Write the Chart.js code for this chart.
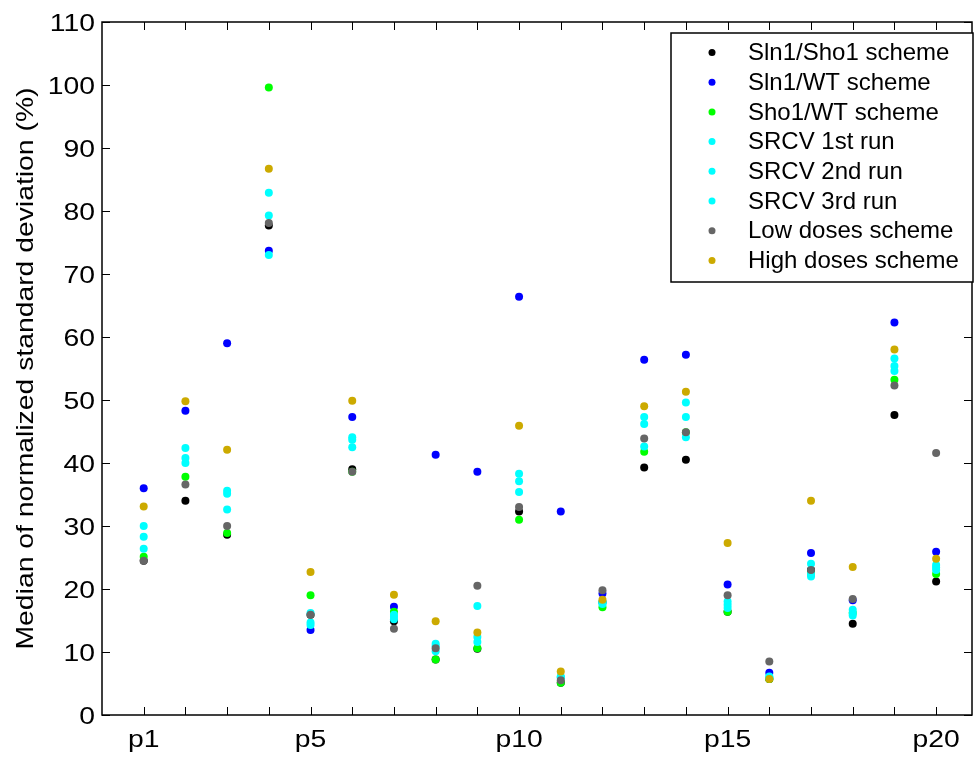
<!DOCTYPE html>
<html>
<head>
<meta charset="utf-8">
<script src="https://cdn.jsdelivr.net/npm/chart.js@4"></script>
<style>
  html, body { margin: 0; padding: 0; background: #fff; }
  canvas { display: block; }
</style>
</head>
<body>
<canvas id="chart" width="976" height="758"></canvas>
<script>
// parameters p1..p20 (x positions 1..20)
const params = ['p1','p2','p3','p4','p5','p6','p7','p8','p9','p10',
                'p11','p12','p13','p14','p15','p16','p17','p18','p19','p20'];
const xTickValues = [1, 5, 10, 15, 20];
const yTitle = 'Median of normalized standard deviation (%)';

// median of normalized standard deviation (%)
const sln1Sho1 = [24.5, 34.0, 28.6, 77.7, 15.9, 39.0, 14.9, 8.8, 10.5, 32.3, 5.1, 17.9, 39.3, 40.5, 16.4, 5.7, 23.0, 14.5, 47.6, 21.2];
const sln1WT   = [36.0, 48.3, 59.0, 73.7, 13.5, 47.3, 17.2, 41.3, 38.6, 66.4, 32.3, 19.3, 56.4, 57.2, 20.7, 6.7, 25.7, 18.2, 62.3, 25.9];
const sho1WT   = [25.1, 37.8, 28.9, 99.6, 19.0, 38.6, 16.4, 8.8, 10.6, 31.0, 5.1, 17.1, 41.8, 44.9, 16.4, 5.7, 22.4, 16.2, 53.2, 22.4];
const srcv1    = [30.0, 42.4, 35.6, 82.9, 16.2, 44.1, 15.9, 11.3, 17.3, 38.3, 6.1, 17.8, 47.3, 49.6, 18.0, 6.1, 24.0, 16.7, 56.6, 23.8];
const srcv2    = [28.3, 40.8, 35.1, 79.3, 14.7, 43.7, 15.6, 10.9, 12.4, 37.1, 6.0, 17.6, 46.2, 47.3, 17.5, 6.0, 22.4, 16.2, 55.4, 23.4];
const srcv3    = [26.4, 40.0, 32.6, 73.0, 14.3, 42.5, 15.2, 10.1, 11.6, 35.4, 5.9, 17.9, 42.6, 44.1, 17.0, 5.9, 22.0, 15.8, 54.6, 23.0];
const lowDoses = [24.5, 36.6, 30.0, 78.1, 15.9, 38.6, 13.7, 10.6, 20.5, 33.0, 5.5, 19.8, 43.9, 44.9, 19.0, 8.5, 23.0, 18.4, 52.3, 41.6];
const highDoses= [33.1, 49.8, 42.1, 86.7, 22.7, 49.9, 19.1, 14.9, 13.1, 45.9, 6.9, 18.3, 49.0, 51.3, 27.3, 5.7, 34.0, 23.5, 58.0, 24.8];

const seriesLabels = ['Sln1/Sho1 scheme', 'Sln1/WT scheme', 'Sho1/WT scheme', 'SRCV 1st run',
                      'SRCV 2nd run', 'SRCV 3rd run', 'Low doses scheme', 'High doses scheme'];
const seriesValues = [sln1Sho1, sln1WT, sho1WT, srcv1, srcv2, srcv3, lowDoses, highDoses];
const seriesColors = ['#000000', '#0000ff', '#00ff00', '#00ffff', '#00ffff', '#00ffff', '#666666', '#ccaa00'];

const FONT = 'Liberation Sans, Arial, sans-serif';
const STRETCH = 1.18;   // axis text in the figure is drawn wider than normal

// later series are painted over earlier ones, as in the original
const datasets = seriesLabels.map((label, i) => ({
  label,
  data: seriesValues[i].map((v, j) => ({ x: j + 1, y: v })),
  backgroundColor: seriesColors[i],
  borderWidth: 0,
  pointRadius: 4,
  pointHoverRadius: 4,
  showLine: false,
  order: seriesLabels.length - i
}));

// box round the plot with inward ticks on all four sides
const framePlugin = {
  id: 'frame',
  beforeDatasetsDraw(chart) {
    const { ctx, chartArea: a, scales: { x, y } } = chart;
    const len = 8;
    ctx.save();
    ctx.strokeStyle = '#000';
    ctx.lineWidth = 1;
    ctx.beginPath();
    for (let i = 1; i <= params.length; i++) {
      const px = Math.round(x.getPixelForValue(i)) + 0.5;
      ctx.moveTo(px, a.bottom); ctx.lineTo(px, a.bottom - len);
      ctx.moveTo(px, a.top); ctx.lineTo(px, a.top + len);
    }
    for (let v = 0; v <= 110; v += 10) {
      const py = Math.round(y.getPixelForValue(v)) + 0.5;
      ctx.moveTo(a.left, py); ctx.lineTo(a.left + len, py);
      ctx.moveTo(a.right, py); ctx.lineTo(a.right - len, py);
    }
    ctx.stroke();
    ctx.lineWidth = 1.5;
    ctx.strokeRect(a.left, a.top, a.right - a.left, a.bottom - a.top);
    ctx.restore();
  }
};

// tick labels and y title, stretched sideways like the original
const axisText = {
  id: 'axisText',
  afterDraw(chart) {
    const { ctx, chartArea: a, scales: { x, y } } = chart;
    ctx.save();
    ctx.fillStyle = '#000';
    ctx.font = '24px ' + FONT;
    ctx.textBaseline = 'alphabetic';

    x.ticks.forEach(t => {
      const px = x.getPixelForValue(t.value);
      ctx.save();
      ctx.translate(px, a.bottom + 32);
      ctx.scale(STRETCH, 1);
      ctx.textAlign = 'center';
      ctx.fillText(t.label, 0, 0);
      ctx.restore();
    });

    y.ticks.forEach(t => {
      const py = y.getPixelForValue(t.value);
      ctx.save();
      ctx.translate(a.left - 7, py + 9.3);
      ctx.scale(STRETCH, 1);
      ctx.textAlign = 'right';
      ctx.fillText(t.label, 0, 0);
      ctx.restore();
    });

    ctx.save();
    ctx.translate(33, (a.top + a.bottom) / 2);
    ctx.rotate(-Math.PI / 2);
    ctx.scale(STRETCH, 1);
    ctx.textAlign = 'center';
    ctx.fillText(yTitle, 0, 0);
    ctx.restore();

    ctx.restore();
  }
};

// legend box inside the plot, upper right
const boxLegend = {
  id: 'boxLegend',
  afterDraw(chart) {
    const ctx = chart.ctx;
    const left = 671, top = 33, right = 973, bottom = 282;
    ctx.save();
    ctx.fillStyle = '#fff';
    ctx.fillRect(left, top, right - left, bottom - top);
    ctx.strokeStyle = '#000';
    ctx.lineWidth = 1.5;
    ctx.strokeRect(left, top, right - left, bottom - top);
    ctx.font = '24px ' + FONT;
    ctx.textBaseline = 'middle';
    chart.data.datasets.forEach((ds, i) => {
      const cy = 52.5 + i * 29.7;
      ctx.fillStyle = ds.backgroundColor;
      ctx.beginPath();
      ctx.arc(712, cy, 3.5, 0, Math.PI * 2);
      ctx.fill();
      ctx.fillStyle = '#000';
      ctx.fillText(ds.label, 748, cy + 1);
    });
    ctx.restore();
  }
};

new Chart(document.getElementById('chart'), {
  type: 'scatter',
  data: { datasets },
  options: {
    responsive: false,
    animation: false,
    events: [],
    layout: { padding: { top: 22, right: 1, left: 0, bottom: 0 } },
    plugins: { legend: { display: false }, tooltip: { enabled: false } },
    scales: {
      x: {
        type: 'linear',
        min: 0,
        max: 20.86,
        grid: { display: false },
        border: { display: false },
        afterBuildTicks: s => { s.ticks = xTickValues.map(v => ({ value: v })); },
        afterFit: s => { s.height = 43; },
        ticks: {
          display: false,
          autoSkip: false,
          callback: v => params[v - 1]
        }
      },
      y: {
        min: 0,
        max: 110,
        grid: { display: false },
        border: { display: false },
        afterFit: s => { s.width = 102; },
        ticks: { display: false, stepSize: 10 }
      }
    }
  },
  plugins: [framePlugin, axisText, boxLegend]
});
</script>
</body>
</html>
